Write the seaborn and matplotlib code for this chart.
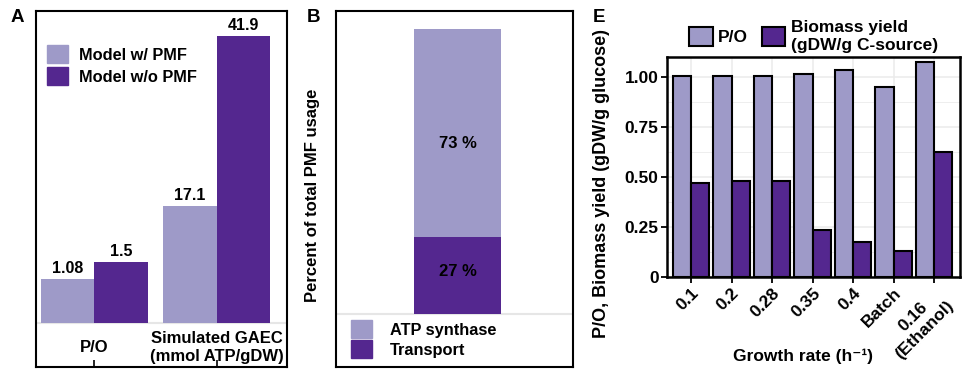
import numpy as np
import matplotlib
matplotlib.use('Agg')
import matplotlib.pyplot as plt
from matplotlib.patches import Patch
import pandas as pd
import seaborn as sns

# panel A
a_metrics = ['P/O', 'Simulated GAEC\n(mmol ATP/gDW)']
a_models = ['Model w/ PMF', 'Model w/o PMF']
a_po = [1.08, 1.5]
a_gaec = [17.1, 41.9]

# panel B
b_parts = ['ATP synthase', 'Transport']
b_percent = [73, 27]

# panel E
e_rates = ['0.1', '0.2', '0.28', '0.35', '0.4', 'Batch', '0.16\n(Ethanol)']
e_series = ['P/O', 'Biomass yield\n(gDW/g C-source)']
e_po = [1.003, 1.005, 1.007, 1.013, 1.033, 0.95, 1.077]
e_biomass = [0.47, 0.478, 0.482, 0.233, 0.177, 0.13, 0.623]

light = '#9e9ac8'
dark = '#54278f'

sns.set_theme(style='white')
plt.rcParams['font.family'] = ['Liberation Sans', 'DejaVu Sans']
plt.rcParams['font.weight'] = 'bold'
plt.rcParams['text.color'] = 'black'
plt.rcParams['axes.labelcolor'] = 'black'
plt.rcParams['xtick.color'] = 'black'
plt.rcParams['ytick.color'] = 'black'

fig = plt.figure(figsize=(9.68, 3.69), dpi=100)
W, H = 968, 369


def box(l, t, r, b):
    return [l / W, 1 - b / H, (r - l) / W, (b - t) / H]


def frame(ax, lw=1.5):
    for s in ax.spines.values():
        s.set_visible(True)
        s.set_color('black')
        s.set_linewidth(lw)


# ---------- A ----------
ax_a = fig.add_axes(box(36, 11, 287, 367))
ax_a2 = ax_a.twinx()

df_gaec = pd.DataFrame({'metric': a_metrics[1], 'model': a_models, 'value': a_gaec})
df_po = pd.DataFrame({'metric': a_metrics[0], 'model': a_models, 'value': a_po})

sns.barplot(data=df_gaec, x='metric', y='value', hue='model', order=a_metrics,
            hue_order=a_models, palette=[light, dark], width=0.875,
            saturation=1, legend=False, linewidth=0, ax=ax_a)
sns.barplot(data=df_po, x='metric', y='value', hue='model', order=a_metrics,
            hue_order=a_models, palette=[light, dark], width=0.875,
            saturation=1, legend=False, linewidth=0, ax=ax_a2)

for ax in (ax_a, ax_a2):
    for c in ax.containers:
        ax.bar_label(c, fmt='{:g}', padding=2, fontsize=11.5, fontweight='bold')

ax_a.set_ylim(-6.42, 45.55)
ax_a2.set_ylim(-1.08, 7.67)
ax_a.set_xlim(-0.475, 1.574)
ax_a.axhline(0, color='#e6e6e6', lw=1.5, zorder=0)
ax_a.set_yticks([])
ax_a2.set_yticks([])
ax_a.set_ylabel('')
ax_a2.set_ylabel('')
ax_a.set_xlabel('')
ax_a.set_xticks([0, 1], a_metrics)
for lbl in ax_a.get_xticklabels():
    lbl.set_va('center')
    lbl.set_fontweight('bold')
    lbl.set_fontsize(12)
ax_a.tick_params(axis='x', direction='in', length=5, width=1.2, color='black',
                 pad=-14, bottom=True)
frame(ax_a)
for s in ax_a2.spines.values():
    s.set_visible(False)

ax_a.legend(handles=[Patch(color=light), Patch(color=dark)], labels=a_models,
            loc='upper left', bbox_to_anchor=(0.044, 0.904), frameon=False,
            borderpad=0, borderaxespad=0, handlelength=1.3, handleheight=1.3,
            handletextpad=0.65, labelspacing=0.25,
            prop={'weight': 'bold', 'size': 11.8})

# ---------- B ----------
ax_b = fig.add_axes(box(336, 11, 573, 367))
total = sum(b_percent)
sns.barplot(x=['PMF'], y=[total], color=light, saturation=1, width=0.37,
            linewidth=0, ax=ax_b)
sns.barplot(x=['PMF'], y=[b_percent[1]], color=dark, saturation=1, width=0.37,
            linewidth=0, ax=ax_b)
ax_b.text(0, b_percent[1] + b_percent[0] * 0.45, f'{b_percent[0]} %', ha='center',
          va='center', fontsize=12, fontweight='bold')
ax_b.text(0, b_percent[1] * 0.55, f'{b_percent[1]} %', ha='center',
          va='center', fontsize=12, fontweight='bold')
ax_b.set_ylim(-18.5, 106.3)
ax_b.set_xlim(-0.513, 0.487)
ax_b.axhline(0, color='#e6e6e6', lw=1.5, zorder=0)
ax_b.set_xticks([])
ax_b.set_yticks([])
ax_b.set_ylabel('')
frame(ax_b)
ax_b.legend(handles=[Patch(color=light), Patch(color=dark)], labels=b_parts,
            loc='upper left', bbox_to_anchor=(0.063, 0.132), frameon=False,
            borderpad=0, borderaxespad=0, handlelength=1.3, handleheight=1.35,
            handletextpad=1.1, labelspacing=0.1,
            prop={'weight': 'bold', 'size': 11.8})
fig.text(312.5 / W, 1 - 195 / H, 'Percent of total PMF usage', rotation=90,
         ha='center', va='center', fontsize=12, fontweight='bold')

# ---------- E ----------
ax_e = fig.add_axes(box(667, 57, 960, 277))
df_e = pd.DataFrame({
    'rate': e_rates * 2,
    'series': [e_series[0]] * len(e_rates) + [e_series[1]] * len(e_rates),
    'value': e_po + e_biomass,
})
sns.barplot(data=df_e, x='rate', y='value', hue='series', order=e_rates,
            hue_order=e_series, palette=[light, dark], width=0.9, saturation=1,
            edgecolor='black', linewidth=1.5, ax=ax_e)
ax_e.set_ylim(0, 1.10)
ax_e.set_xlim(-0.593, 6.64)
ax_e.set_yticks([0, 0.25, 0.5, 0.75, 1.0], ['0', '0.25', '0.50', '0.75', '1.00'])
ax_e.set_yticks([0.125, 0.375, 0.625, 0.875], minor=True)
ax_e.grid(True, which='major', color='#ebebeb', lw=1.1)
ax_e.grid(True, which='minor', axis='y', color='#ebebeb', lw=0.6)
ax_e.set_axisbelow(True)
ax_e.tick_params(axis='both', which='major', direction='out', length=4, width=1.3,
                 color='black', labelsize=12.5, bottom=True, left=True, pad=2)
ax_e.tick_params(axis='y', which='minor', length=0)
for lbl in ax_e.get_yticklabels():
    lbl.set_fontweight('bold')
for lbl in ax_e.get_xticklabels():
    lbl.set_rotation(45)
    lbl.set_ha('right')
    lbl.set_rotation_mode('anchor')
    lbl.set_multialignment('center')
    lbl.set_fontweight('bold')
ax_e.set_ylabel('')
ax_e.set_xlabel('Growth rate (h⁻¹)', fontsize=12.5, fontweight='bold')
ax_e.xaxis.set_label_coords(0.464, -0.327)
frame(ax_e, lw=1.8)
ax_e.legend(loc='lower center', bbox_to_anchor=(0.5, 1.02), ncol=2, frameon=False,
            borderpad=0, borderaxespad=0, handlelength=1.35, handleheight=1.35,
            handletextpad=0.3, columnspacing=0.8,
            prop={'weight': 'bold', 'size': 12.5})
fig.text(601 / W, 1 - 184 / H, 'P/O, Biomass yield (gDW/g glucose)', rotation=90,
         ha='center', va='center', fontsize=13, fontweight='bold')

# panel letters
fig.text(17 / W, 1 - 17 / H, 'A', ha='center', va='center', fontsize=13.5, fontweight='bold')
fig.text(313 / W, 1 - 17 / H, 'B', ha='center', va='center', fontsize=13.5, fontweight='bold')
fig.text(599 / W, 1 - 18 / H, 'E', ha='center', va='center', fontsize=13.5, fontweight='bold')

fig.savefig('out.png', dpi=100)
